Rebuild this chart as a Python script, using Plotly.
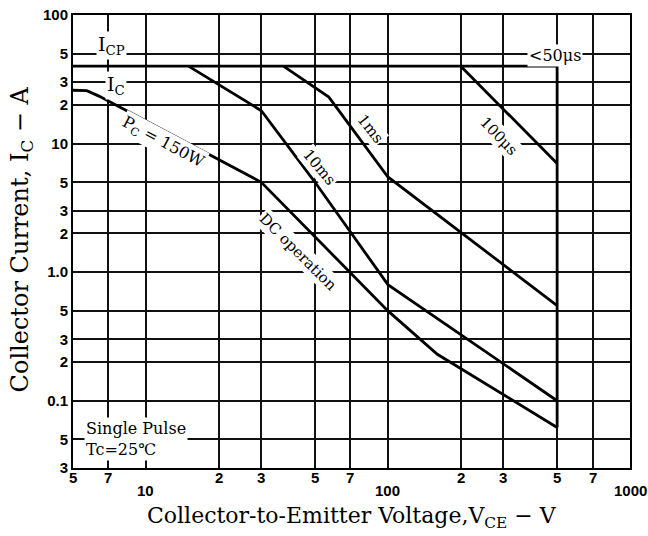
import numpy as np
import plotly.graph_objects as go

# ---- data ----
x_tickvals = [5, 7, 10, 20, 30, 50, 70, 100, 200, 300, 500, 700, 1000]
x_minor_vals = [5, 7, 20, 30, 50, 70, 200, 300, 500, 700]
x_minor_text = ["5", "7", "2", "3", "5", "7", "2", "3", "5", "7"]
x_decade_vals = [10, 100, 1000]
x_decade_text = ["10", "100", "1000"]
y_tickvals = [100, 50, 30, 20, 10, 5, 3, 2, 1, 0.5, 0.3, 0.2, 0.1, 0.05, 0.03]
y_ticktext = ["100", "5", "3", "2", "10", "5", "3", "2", "1.0", "5", "3", "2", "0.1", "5", "3"]

limit_v = [5, 500, 500]
limit_i = [40, 40, 0.062]

dc_v = [5, 5.7, 6.4, 30, 100, 160, 500]
dc_i = [26, 25.8, 23.4, 5, 0.5, 0.23, 0.062]

ms10_v = [15, 30, 50, 100, 500]
ms10_i = [40, 18, 5, 0.8, 0.1]

ms1_v = [37, 57, 100, 500]
ms1_i = [40, 23, 5.5, 0.55]

us100_v = [200, 500]
us100_i = [40, 7]

curves = [(limit_v, limit_i), (dc_v, dc_i), (ms10_v, ms10_i), (ms1_v, ms1_i), (us100_v, us100_i)]

SERIF = "DejaVu Serif"

fig = go.Figure()
for v, i in curves:
    fig.add_trace(go.Scatter(x=v, y=i, mode="lines",
                             line=dict(color="black", width=2.8),
                             showlegend=False, hoverinfo="skip"))

# curve labels: (text, x, y, angle, size)
labels = [
    ("I<sub>CP</sub>", 7.2, 58, 0, 19),
    ("I<sub>C</sub>", 7.5, 28.5, 0, 19),
    ("P<sub>C</sub> = 150W", 11.8, 10.2, 28, 16),
    ("DC operation", 42.5, 1.43, 45, 15),
    ("10ms", 52, 6.6, 50, 15),
    ("1ms", 85, 13.1, 52, 15),
    ("100μs", 287, 11.5, 46, 15),
    ("&lt;50μs", 491, 48, 0, 16),
]
for t, x, y, a, s in labels:
    fig.add_annotation(x=np.log10(x), y=np.log10(y), xref="x", yref="y", text=t,
                       textangle=a, showarrow=False, xanchor="center", yanchor="middle",
                       font=dict(family=SERIF, size=s, color="black"),
                       bgcolor="white")

fig.add_annotation(x=np.log10(5.55), y=np.log10(0.05), xref="x", yref="y",
                   text="Single Pulse<br>Tc=25℃", showarrow=False, align="left",
                   xanchor="left", yanchor="middle",
                   font=dict(family=SERIF, size=16, color="black"), bgcolor="white")

tickfont = dict(family="Liberation Sans", size=15, color="black", weight="bold")
# x tick labels: single digits just under the axis, decades one step lower
for v, t in zip(x_minor_vals, x_minor_text):
    fig.add_annotation(x=np.log10(v), y=-0.022, xref="x", yref="paper", text=t,
                       showarrow=False, xanchor="center", yanchor="middle", font=tickfont)
for v, t in zip(x_decade_vals, x_decade_text):
    fig.add_annotation(x=np.log10(v), y=-0.049, xref="x", yref="paper", text=t,
                       showarrow=False, xanchor="center", yanchor="middle", font=tickfont)

# axis titles
fig.add_annotation(x=0.5, y=-0.11, xref="paper", yref="paper",
                   text="Collector-to-Emitter Voltage,V<sub>CE</sub> − V",
                   showarrow=False, xanchor="center", yanchor="middle",
                   font=dict(family=SERIF, size=22, color="black"))
fig.add_annotation(x=-0.093, y=0.505, xref="paper", yref="paper",
                   text="Collector Current, I<sub>C</sub> − A", textangle=-90,
                   showarrow=False, xanchor="center", yanchor="middle",
                   font=dict(family=SERIF, size=24, color="black"))

fig.update_xaxes(type="log", range=[np.log10(5), 3], tickvals=x_tickvals,
                 showticklabels=False,
                 showgrid=True, gridcolor="#111", gridwidth=1.8, showline=True, linecolor="black",
                 linewidth=2, mirror=True, ticks="", zeroline=False, automargin=False)
fig.update_yaxes(type="log", range=[np.log10(0.03), 2], tickvals=y_tickvals, ticktext=y_ticktext,
                 showgrid=True, gridcolor="#111", gridwidth=1.8, showline=True, linecolor="black",
                 linewidth=2, mirror=True, ticks="", tickfont=tickfont, zeroline=False,
                 automargin=False)
fig.update_layout(width=648, height=536, margin=dict(l=73, r=18, t=15, b=68),
                  plot_bgcolor="white", paper_bgcolor="white", showlegend=False)
fig.write_html("out.html", config={"displayModeBar": False},
               post_script="document.body.style.margin='0';document.body.style.overflow='hidden';")
